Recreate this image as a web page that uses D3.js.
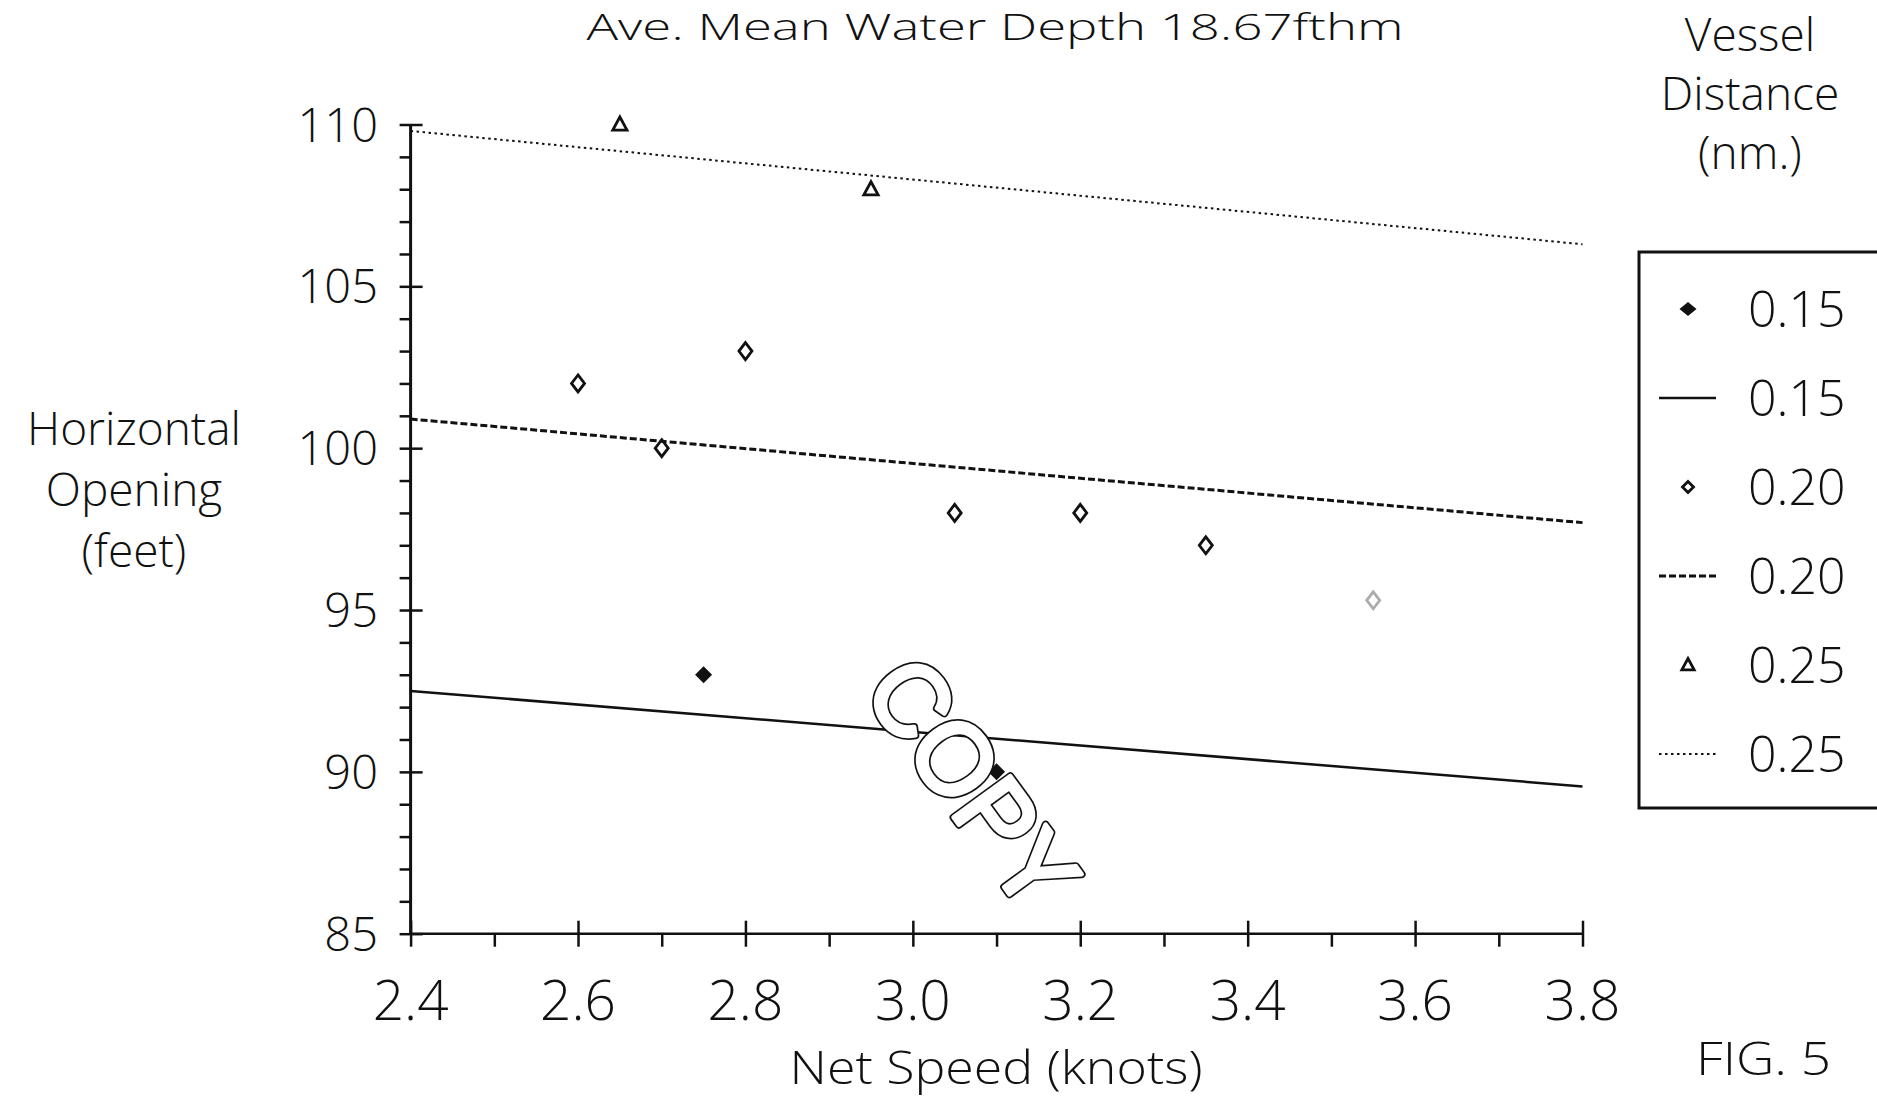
<!DOCTYPE html>
<html>
<head>
<meta charset="utf-8">
<script src="https://cdn.jsdelivr.net/npm/d3@7"></script>
<style>
  html, body { margin: 0; padding: 0; background: #fff; }
  svg { display: block; }
  text { font-family: "Open Sans", "DejaVu Sans", sans-serif; font-weight: 300; fill: #111; }
</style>
</head>
<body>
<svg id="chart" width="1877" height="1096"></svg>
<script>
// Net speed (knots) vs. horizontal net opening (feet), grouped by vessel distance (nm.)
const xTicks = [2.4, 2.6, 2.8, 3.0, 3.2, 3.4, 3.6, 3.8];
const yTicks = [85, 90, 95, 100, 105, 110];

// observed openings, vessel distance 0.15 nm
const speed015 = [2.75, 3.10];
const open015  = [93, 90];
// observed openings, vessel distance 0.20 nm
const speed020 = [2.60, 2.70, 2.80, 3.05, 3.20, 3.35, 3.55];
const open020  = [102, 100, 103, 98, 98, 97, 95.3];
// observed openings, vessel distance 0.25 nm
const speed025 = [2.65, 2.95];
const open025  = [110, 108];

// fitted lines, evaluated at the ends of the speed range
const fitSpeed = [2.4, 3.8];
const fit015 = [92.5, 89.55];
const fit020 = [100.9, 97.7];
const fit025 = [109.8, 106.3];

const legendLabels = ["0.15", "0.15", "0.20", "0.20", "0.25", "0.25"];

const svg = d3.select("#chart");
const x = d3.scaleLinear().domain([2.4, 3.8]).range([410.6, 1582.5]);
const y = d3.scaleLinear().domain([85, 110]).range([933.7, 124.5]);

const ink = "#111";

// ---- axes ----
const gy = svg.append("g").attr("transform", `translate(${x(2.4)},0)`)
  .call(d3.axisLeft(y).tickValues(d3.range(85, 111, 1)).tickSize(11).tickFormat(""));
gy.select(".domain").attr("stroke", ink).attr("stroke-width", 3).attr("d", `M0,${y(110)}V${y(85)}`);
gy.selectAll(".tick line").attr("stroke", ink).attr("stroke-width", 2.5)
  .attr("x1", d => (d % 5 === 0 ? 12 : 0));

const gx = svg.append("g").attr("transform", `translate(0,${y(85)})`)
  .call(d3.axisBottom(x).tickValues(d3.range(24, 39, 1).map(v => v / 10)).tickSize(12).tickFormat(""));
gx.select(".domain").attr("stroke", ink).attr("stroke-width", 2.5).attr("d", `M${x(2.4)},0H${x(3.8)}`);
gx.selectAll(".tick line").attr("stroke", ink).attr("stroke-width", 2.5)
  .attr("y1", d => (Math.round(d * 10) % 2 === 0 ? -13 : 0))
  .attr("y2", 13);

// tick labels
svg.append("g").selectAll("text").data(yTicks).join("text")
  .attr("x", 378).attr("y", d => y(d) + 17)
  .attr("text-anchor", "end")
  .attr("font-size", 47)
  .text(d => d);

svg.append("g").selectAll("text").data(xTicks).join("text")
  .attr("x", d => x(d)).attr("y", 1020)
  .attr("text-anchor", "middle")
  .attr("font-size", 55)
  .text(d => d.toFixed(1));

// axis titles
svg.append("text").attr("x", 996).attr("y", 1084).attr("text-anchor", "middle")
  .attr("font-size", 46).attr("textLength", 413).attr("lengthAdjust", "spacingAndGlyphs")
  .text("Net Speed (knots)");

const yTitle = ["Horizontal", "Opening", "(feet)"];
svg.append("g").selectAll("text").data(yTitle).join("text")
  .attr("x", 134).attr("y", (d, i) => 445 + i * 61)
  .attr("text-anchor", "middle").attr("font-size", 46)
  .text(d => d);

// title along the top edge
svg.append("text").attr("x", 995).attr("y", 40).attr("text-anchor", "middle")
  .attr("font-size", 36).attr("textLength", 817).attr("lengthAdjust", "spacingAndGlyphs")
  .text("Ave. Mean Water Depth 18.67fthm");

// legend heading
const vesselTitle = ["Vessel", "Distance", "(nm.)"];
svg.append("g").selectAll("text").data(vesselTitle).join("text")
  .attr("x", 1750).attr("y", (d, i) => 51 + i * 59)
  .attr("text-anchor", "middle").attr("font-size", 46)
  .text(d => d);

svg.append("text").attr("x", 1696).attr("y", 1075)
  .attr("font-size", 46).attr("textLength", 135).attr("lengthAdjust", "spacingAndGlyphs")
  .text("FIG. 5");

// ---- fitted lines ----
const line = d3.line().x(d => x(d[0])).y(d => y(d[1]));
const lineStyles = [
  { vals: fit015, width: 2.5, dash: null },
  { vals: fit020, width: 3, dash: "7,3" },
  { vals: fit025, width: 2, dash: "2.5,3.5" }
];
lineStyles.forEach(s => {
  svg.append("path")
    .datum(fitSpeed.map((v, i) => [v, s.vals[i]]))
    .attr("d", line)
    .attr("fill", "none").attr("stroke", ink)
    .attr("stroke-width", s.width)
    .attr("stroke-dasharray", s.dash);
});

// ---- markers ----
const diamond = (hw, hh) => `M0,${-hh}L${hw},0L0,${hh}L${-hw},0Z`;
const triangle = s => `M0,${-s}L${s * 0.95},${s * 0.75}L${-s * 0.95},${s * 0.75}Z`;

svg.append("g").selectAll("path").data(speed015.map((v, i) => [v, open015[i]])).join("path")
  .attr("transform", d => `translate(${x(d[0])},${y(d[1])})`)
  .attr("d", diamond(8.5, 8.5)).attr("fill", ink);

svg.append("g").selectAll("path").data(speed020.map((v, i) => [v, open020[i]])).join("path")
  .attr("transform", d => `translate(${x(d[0])},${y(d[1])})`)
  .attr("d", diamond(6.5, 8.5)).attr("fill", "none").attr("stroke", ink).attr("stroke-width", 2.8)
  .attr("opacity", (d, i) => (i === speed020.length - 1 ? 0.35 : 1));

svg.append("g").selectAll("path").data(speed025.map((v, i) => [v, open025[i]])).join("path")
  .attr("transform", d => `translate(${x(d[0])},${y(d[1])})`)
  .attr("d", triangle(7.5)).attr("fill", "none").attr("stroke", ink).attr("stroke-width", 2.8);

// ---- legend ----
const lg = svg.append("g");
lg.append("rect").attr("x", 1639).attr("y", 252).attr("width", 300).attr("height", 556)
  .attr("fill", "none").attr("stroke", ink).attr("stroke-width", 3);
const rowY = i => 309 + i * 89;
lg.selectAll("text").data(legendLabels).join("text")
  .attr("x", 1748).attr("y", (d, i) => rowY(i) + 18)
  .attr("font-size", 50).text(d => d);
lg.append("path").attr("transform", `translate(1688,${rowY(0)})`).attr("d", diamond(8.5, 7)).attr("fill", ink);
lg.append("path").attr("transform", `translate(1688,${rowY(2)})`).attr("d", diamond(5.5, 5.5))
  .attr("fill", "none").attr("stroke", ink).attr("stroke-width", 2.8);
lg.append("path").attr("transform", `translate(1688,${rowY(4)})`).attr("d", triangle(6.5))
  .attr("fill", "none").attr("stroke", ink).attr("stroke-width", 2.8);
[[1, 2.5, null], [3, 3, "7,3"], [5, 2, "2.5,3.5"]].forEach(([r, w, dash]) => {
  lg.append("line").attr("x1", 1659).attr("x2", 1716).attr("y1", rowY(r)).attr("y2", rowY(r))
    .attr("stroke", ink).attr("stroke-width", w).attr("stroke-dasharray", dash);
});

// ---- "COPY" stamp, hollow outlined letters ----
const stamp = svg.append("g").attr("transform", "translate(973,783) rotate(54)");
stamp.append("text").attr("text-anchor", "middle").attr("y", 36)
  .style("font-family", "'Liberation Sans', Arial, sans-serif").style("font-weight", 400)
  .attr("font-size", 102).attr("textLength", 280).attr("lengthAdjust", "spacingAndGlyphs")
  .style("fill", "none").attr("stroke", ink).attr("stroke-width", 8).attr("stroke-linejoin", "round")
  .text("COPY");
stamp.append("text").attr("text-anchor", "middle").attr("y", 36)
  .style("font-family", "'Liberation Sans', Arial, sans-serif").style("font-weight", 400)
  .attr("font-size", 102).attr("textLength", 280).attr("lengthAdjust", "spacingAndGlyphs")
  .style("fill", "#fff").attr("stroke", "#fff").attr("stroke-width", 4.5).attr("stroke-linejoin", "round")
  .text("COPY");
</script>
</body>
</html>
